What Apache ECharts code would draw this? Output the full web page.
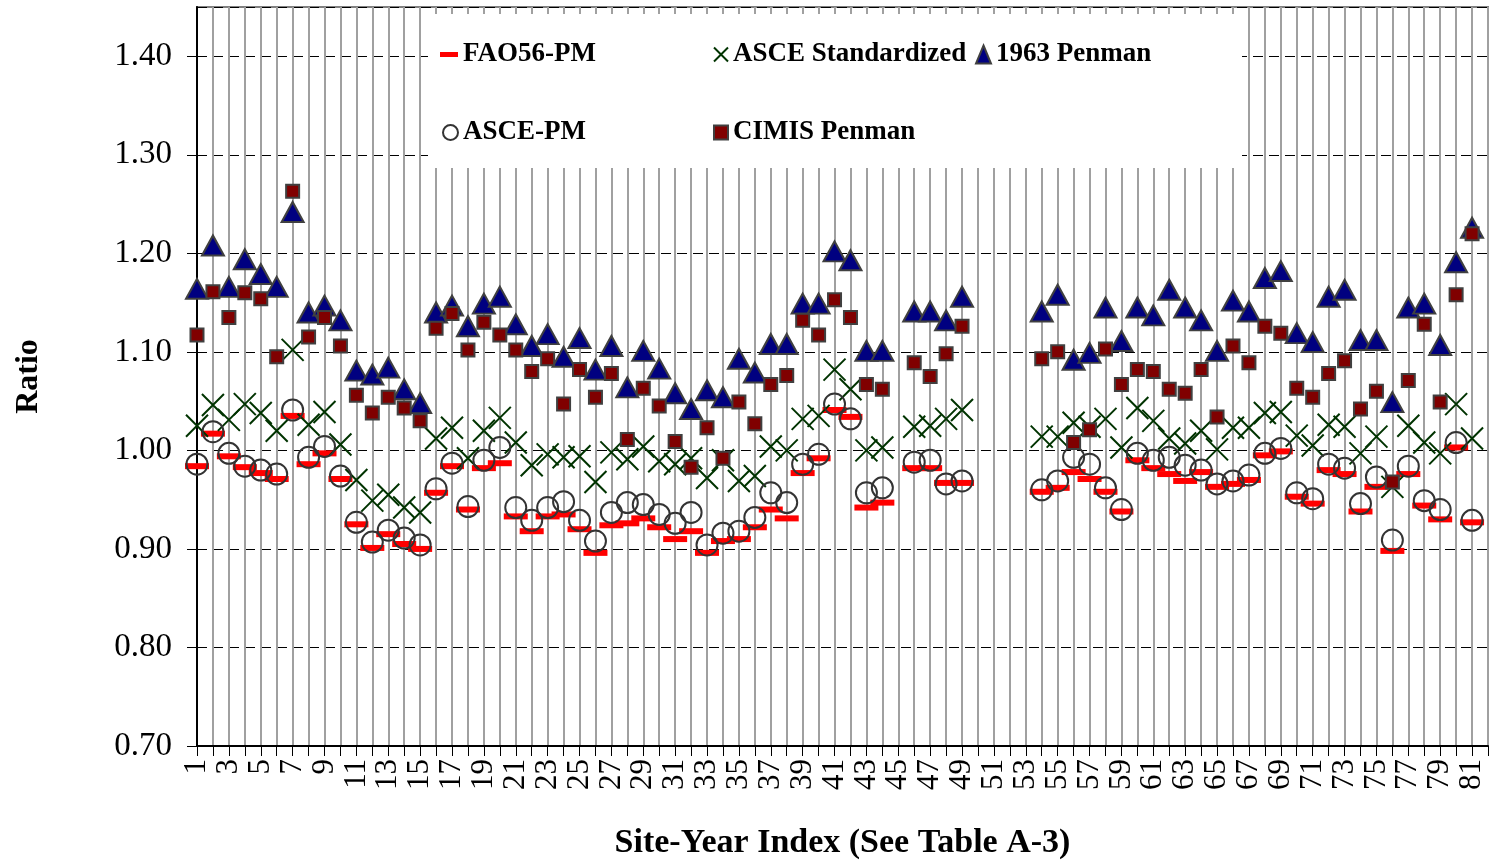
<!DOCTYPE html>
<html>
<head>
<meta charset="utf-8">
<title>Ratio by site-year</title>
<script src="https://cdn.jsdelivr.net/npm/echarts@6/dist/echarts.min.js"></script>
<style>
  html, body { margin:0; padding:0; background:#fff; }
  #chart { width:1494px; height:860px; }
</style>
</head>
<body>
<div id="chart"></div>
<script>
// ===== Data =====
const siteYear = [
  1,2,3,4,5,6,7,8,9,10,11,12,13,14,15,16,17,18,19,20,
  21,22,23,24,25,26,27,28,29,30,31,32,33,34,35,36,37,38,39,40,
  41,42,43,44,45,46,47,48,49,50,51,52,53,54,55,56,57,58,59,60,
  61,62,63,64,65,66,67,68,69,70,71,72,73,74,75,76,77,78,79,80,81
];

const fao56PM = [
  0.984,1.017,0.994,0.983,0.977,0.971,1.035,0.986,0.997,0.971,
  0.925,0.901,0.915,0.905,0.900,0.957,0.984,0.940,0.982,0.987,
  0.933,0.918,0.933,0.935,0.920,0.896,0.924,0.926,0.931,0.922,
  0.910,0.918,0.896,0.908,0.910,0.922,0.940,0.931,0.977,0.992,
  1.041,1.034,0.942,0.947,null,0.982,0.982,0.967,0.967,null,
  null,null,null,0.958,0.962,0.978,0.971,0.958,0.938,0.990,
  0.982,0.976,0.969,0.978,0.963,0.966,0.970,0.995,0.999,0.953,
  0.946,0.980,0.976,0.938,0.963,0.898,0.976,0.944,0.930,1.003,
  0.927
];

const ascePM = [
  0.986,1.019,0.997,0.984,0.980,0.976,1.041,0.993,1.004,0.974,
  0.927,0.907,0.919,0.911,0.904,0.961,0.987,0.943,0.990,1.003,
  0.942,0.929,0.942,0.948,0.929,0.908,0.937,0.947,0.945,0.935,
  0.926,0.937,0.904,0.916,0.918,0.932,0.957,0.947,0.986,0.996,
  1.047,1.032,0.957,0.962,null,0.988,0.990,0.966,0.969,null,
  null,null,null,0.960,0.969,0.993,0.986,0.962,0.940,0.997,
  0.990,0.993,0.985,0.980,0.966,0.969,0.975,0.997,1.002,0.957,
  0.951,0.986,0.982,0.946,0.973,0.909,0.984,0.949,0.940,1.008,
  0.929
];

const asceStd = [
  1.025,1.046,1.031,1.047,1.038,1.020,1.102,1.026,1.039,1.006,
  0.970,0.949,0.955,0.942,0.937,1.012,1.023,0.992,1.020,1.033,
  1.008,0.985,0.996,0.993,0.994,0.968,0.998,0.991,1.004,0.989,
  0.986,0.992,0.972,0.990,0.969,0.974,1.004,1.000,1.032,1.035,
  1.082,1.062,1.000,1.003,null,1.024,1.025,1.032,1.041,null,
  null,null,null,1.014,1.014,1.028,1.024,1.032,1.003,1.043,
  1.030,1.012,1.007,1.020,1.001,1.023,1.023,1.038,1.039,1.015,
  1.005,1.026,1.024,0.997,1.014,0.963,1.025,1.008,0.997,1.047,
  1.012
];

const penman1963 = [
  1.164,1.208,1.166,1.194,1.179,1.166,1.242,1.140,1.147,1.132,
  1.081,1.077,1.084,1.062,1.048,1.140,1.147,1.126,1.149,1.156,
  1.128,1.106,1.118,1.095,1.114,1.082,1.106,1.064,1.101,1.083,
  1.058,1.042,1.061,1.054,1.093,1.079,1.108,1.108,1.149,1.149,
  1.202,1.193,1.101,1.101,null,1.141,1.141,1.132,1.156,null,
  null,null,null,1.141,1.158,1.092,1.099,1.145,1.111,1.145,
  1.137,1.163,1.145,1.132,1.101,1.152,1.141,1.175,1.182,1.119,
  1.110,1.156,1.163,1.112,1.112,1.049,1.145,1.149,1.107,1.191,
  1.226
];

const cimisPenman = [
  1.117,1.161,1.135,1.160,1.154,1.095,1.263,1.115,1.135,1.106,
  1.056,1.038,1.054,1.043,1.030,1.124,1.139,1.102,1.130,1.117,
  1.102,1.080,1.093,1.047,1.082,1.054,1.078,1.011,1.063,1.045,
  1.009,0.983,1.023,0.992,1.049,1.027,1.067,1.076,1.132,1.117,
  1.153,1.135,1.067,1.062,null,1.089,1.075,1.098,1.126,null,
  null,null,null,1.093,1.100,1.008,1.021,1.103,1.067,1.082,
  1.080,1.062,1.058,1.082,1.034,1.106,1.089,1.126,1.119,1.063,
  1.054,1.078,1.091,1.042,1.060,0.968,1.071,1.128,1.049,1.158,
  1.220
];

const yTicks = { min: 0.70, max: 1.45, step: 0.10 };

// ===== helpers =====
const FONT = '"Liberation Serif", "Times New Roman", serif';
const pairs = vals => siteYear.map((s, i) => [s, vals[i]]).filter(p => p[1] != null);
const CROSS = 'path://M0,0L20,20M20,0L0,20';

const chart = echarts.init(document.getElementById('chart'), null, { renderer:'canvas' });

function legendItem(name, icon, left, top, w, h){
  return {
    data: [{ name, icon }],
    left, top,
    padding: 0,
    itemWidth: w, itemHeight: h,
    selectedMode: false,
    textStyle: { fontFamily: FONT, fontWeight: 'bold', fontSize: 27, color: '#000' }
  };
}

const option = {
  animation: false,
  backgroundColor: '#fff',
  grid: {
    left: 197, right: 6, top: 7, bottom: 114,
    outerBoundsMode: 'none',
    show: true, borderColor: '#808080', borderWidth: 2, backgroundColor: '#fff'
  },
  // white box behind the legend (hides the grid lines there)
  graphic: [{
    type: 'rect', z: 3,
    shape: { x: 428, y: 14, width: 814, height: 154 },
    style: { fill: '#fff' }
  }],
  legend: [
    legendItem('FAO56-PM',          'rect',     440,  41, 18, 5),
    legendItem('ASCE Standardized', CROSS,      713,  41, 14, 17),
    legendItem('1963 Penman',       'triangle', 975,  41, 15, 18),
    legendItem('ASCE-PM',           'circle',   442, 119, 15, 15),
    legendItem('CIMIS Penman',      'rect',     713, 119, 14, 14)
  ],
  xAxis: {
    type: 'value',
    min: 1, max: 82, interval: 1,
    name: 'Site-Year Index (See Table A-3)',
    nameLocation: 'middle',
    nameGap: 80,
    nameTextStyle: { fontFamily: FONT, fontWeight: 'bold', fontSize: 34, color: '#000' },
    axisLine: { lineStyle: { color: '#000', width: 2 } },
    axisTick: { show: true, length: 10, lineStyle: { color: '#000', width: 1 } },
    axisLabel: {
      rotate: 90, margin: 13,
      fontFamily: FONT, fontSize: 31, color: '#000',
      formatter: v => (v % 2 === 1 && v <= 81) ? String(v) : ''
    },
    splitLine: { show: true, lineStyle: { color: '#a0a0a0', width: 2 } }
  },
  yAxis: {
    type: 'value',
    min: yTicks.min, max: yTicks.max, interval: yTicks.step,
    name: 'Ratio',
    nameLocation: 'middle',
    nameGap: 152,
    nameRotate: 90,
    nameTextStyle: { fontFamily: FONT, fontWeight: 'bold', fontSize: 32, color: '#000' },
    axisLine: { show: true, lineStyle: { color: '#000', width: 2 } },
    axisTick: { show: true, length: 10, lineStyle: { color: '#000', width: 1 } },
    axisLabel: {
      margin: 25, showMaxLabel: false,
      fontFamily: FONT, fontSize: 33, color: '#000',
      formatter: v => v.toFixed(2)
    },
    splitLine: { show: true, lineStyle: { color: '#000', width: 1, type: [10, 6] } }
  },
  series: [
    {
      name: 'FAO56-PM', type: 'scatter',
      data: pairs(fao56PM),
      symbol: 'rect', symbolSize: [24, 6],
      itemStyle: { color: '#ff0000', opacity: 1 }
    },
    {
      name: 'ASCE Standardized', type: 'scatter',
      data: pairs(asceStd),
      symbol: CROSS, symbolSize: 22,
      itemStyle: { color: '#003300', borderColor: '#003300', borderWidth: 2, opacity: 1 }
    },
    {
      name: '1963 Penman', type: 'scatter',
      data: pairs(penman1963),
      symbol: 'triangle', symbolSize: [22, 20],
      itemStyle: { color: '#000080', borderColor: '#404040', borderWidth: 2, opacity: 1 }
    },
    {
      name: 'ASCE-PM', type: 'scatter',
      data: pairs(ascePM),
      symbol: 'circle', symbolSize: 21,
      itemStyle: { color: 'rgba(0,0,0,0)', borderColor: '#333333', borderWidth: 2, opacity: 1 }
    },
    {
      name: 'CIMIS Penman', type: 'scatter',
      data: pairs(cimisPenman),
      symbol: 'rect', symbolSize: 13,
      itemStyle: { color: '#800000', borderColor: '#404040', borderWidth: 2, opacity: 1 }
    }
  ]
};

chart.setOption(option);
</script>
</body>
</html>
